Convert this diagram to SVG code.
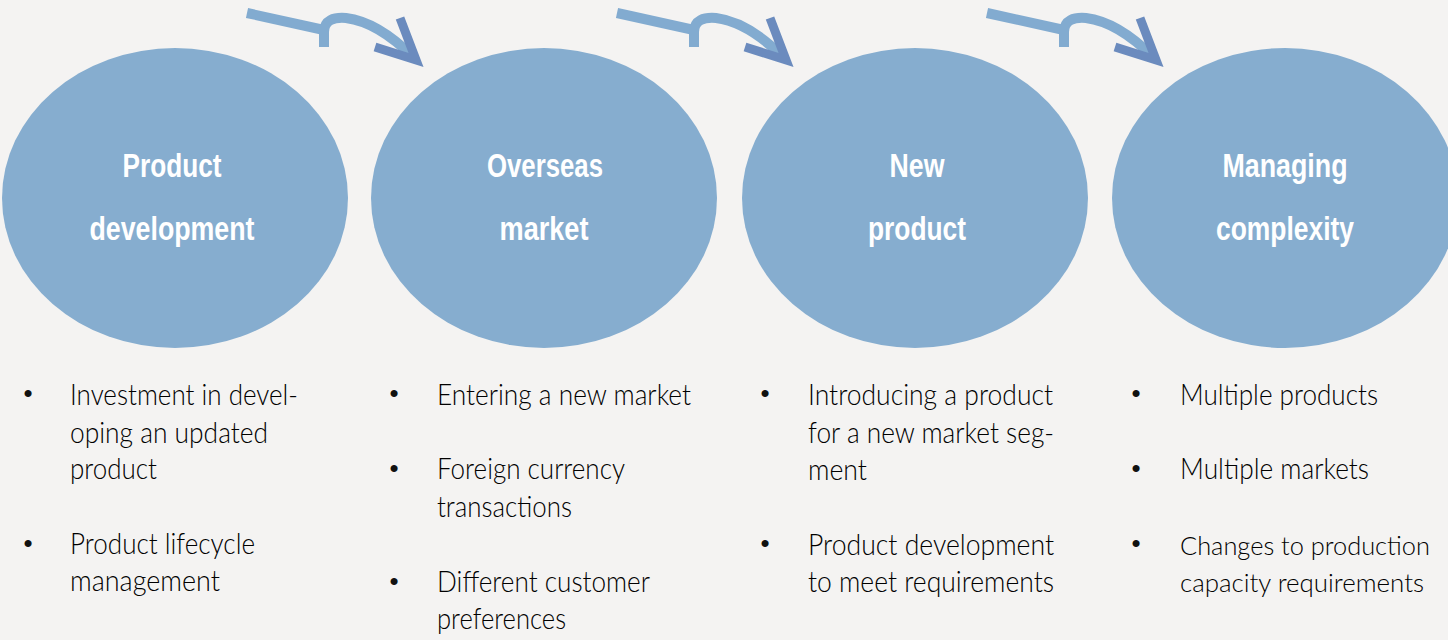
<svg xmlns="http://www.w3.org/2000/svg" xmlns:xlink="http://www.w3.org/1999/xlink" width="1448" height="640" viewBox="0 0 1448 640">
<style>
.bubble{fill:#86adcf}
.title{font-family:"Liberation Sans Narrow","Liberation Sans",Arial,sans-serif;font-weight:bold;font-size:34px;fill:#ffffff;text-anchor:middle}
.item{font-family:Lato,"Open Sans","Liberation Sans",sans-serif;font-weight:300;font-size:29px;fill:#000000}
.tight{font-size:26px}
.dot{font-family:"Liberation Sans",sans-serif;font-size:26px;fill:#111111;text-anchor:middle}
.shaft{fill:none;stroke:#82abd0;stroke-width:10;stroke-linecap:butt;stroke-linejoin:round}
.head{fill:none;stroke:#6b8bbe;stroke-width:9;stroke-linecap:butt;stroke-linejoin:miter;stroke-miterlimit:10}
</style>
<defs>
<g id="curlArrow">
<path class="shaft" d="M247,13 L324,30"/>
<path class="shaft" d="M324,47 L324,32 C324,20 334,17 346,18 C370,21 394,38 413,57"/>
<path class="head" d="M400,18 L416,60 L375,47"/>
</g>
</defs>
<rect x="0" y="0" width="1448" height="640" fill="#f4f3f2"/>

<g id="connectors">
<use xlink:href="#curlArrow" href="#curlArrow"/>
<use xlink:href="#curlArrow" href="#curlArrow" transform="translate(370,0)"/>
<use xlink:href="#curlArrow" href="#curlArrow" transform="translate(740,0)"/>
</g>

<g id="node-product-development">
<ellipse class="bubble" cx="175" cy="198" rx="173" ry="150"/>
<text class="title" x="172" y="177" textLength="99" lengthAdjust="spacingAndGlyphs">Product</text>
<text class="title" x="172" y="240" textLength="165" lengthAdjust="spacingAndGlyphs">development</text>
<text class="dot" x="28" y="402">•</text>
<text class="item" x="70" y="405" textLength="228" lengthAdjust="spacingAndGlyphs">Investment in devel-</text>
<text class="item" x="70" y="443" textLength="198" lengthAdjust="spacingAndGlyphs">oping an updated</text>
<text class="item" x="70" y="479" textLength="87" lengthAdjust="spacingAndGlyphs">product</text>
<text class="dot" x="28" y="552">•</text>
<text class="item" x="70" y="554" textLength="185" lengthAdjust="spacingAndGlyphs">Product lifecycle</text>
<text class="item" x="70" y="591" textLength="150" lengthAdjust="spacingAndGlyphs">management</text>
</g>

<g id="node-overseas-market">
<ellipse class="bubble" cx="544" cy="198" rx="173" ry="150"/>
<text class="title" x="545" y="177" textLength="116" lengthAdjust="spacingAndGlyphs">Overseas</text>
<text class="title" x="544" y="240" textLength="89" lengthAdjust="spacingAndGlyphs">market</text>
<text class="dot" x="394" y="402">•</text>
<text class="item" x="437" y="405" textLength="254" lengthAdjust="spacingAndGlyphs">Entering a new market</text>
<text class="dot" x="394" y="477">•</text>
<text class="item" x="437" y="479" textLength="188" lengthAdjust="spacingAndGlyphs">Foreign currency</text>
<text class="item" x="437" y="517" textLength="135" lengthAdjust="spacingAndGlyphs">transactions</text>
<text class="dot" x="394" y="590">•</text>
<text class="item" x="437" y="592" textLength="213" lengthAdjust="spacingAndGlyphs">Different customer</text>
<text class="item" x="437" y="629" textLength="129" lengthAdjust="spacingAndGlyphs">preferences</text>
</g>

<g id="node-new-product">
<ellipse class="bubble" cx="915" cy="198" rx="173" ry="150"/>
<text class="title" x="917" y="177" textLength="55" lengthAdjust="spacingAndGlyphs">New</text>
<text class="title" x="917" y="240" textLength="98" lengthAdjust="spacingAndGlyphs">product</text>
<text class="dot" x="765" y="402">•</text>
<text class="item" x="808" y="405" textLength="245" lengthAdjust="spacingAndGlyphs">Introducing a product</text>
<text class="item" x="808" y="443" textLength="246" lengthAdjust="spacingAndGlyphs">for a new market seg-</text>
<text class="item" x="808" y="480" textLength="59" lengthAdjust="spacingAndGlyphs">ment</text>
<text class="dot" x="765" y="552">•</text>
<text class="item" x="808" y="555" textLength="246" lengthAdjust="spacingAndGlyphs">Product development</text>
<text class="item" x="808" y="592" textLength="246" lengthAdjust="spacingAndGlyphs">to meet requirements</text>
</g>

<g id="node-managing-complexity">
<ellipse class="bubble" cx="1285" cy="198" rx="173" ry="150"/>
<text class="title" x="1285" y="177" textLength="125" lengthAdjust="spacingAndGlyphs">Managing</text>
<text class="title" x="1285" y="240" textLength="138" lengthAdjust="spacingAndGlyphs">complexity</text>
<text class="dot" x="1136" y="402">•</text>
<text class="item" x="1180" y="405" textLength="198" lengthAdjust="spacingAndGlyphs">Multiple products</text>
<text class="dot" x="1136" y="477">•</text>
<text class="item" x="1180" y="479" textLength="189" lengthAdjust="spacingAndGlyphs">Multiple markets</text>
<text class="dot" x="1136" y="552">•</text>
<text class="item tight" x="1180" y="555" textLength="250" lengthAdjust="spacingAndGlyphs">Changes to production</text>
<text class="item tight" x="1180" y="592" textLength="244" lengthAdjust="spacingAndGlyphs">capacity requirements</text>
</g>
</svg>
